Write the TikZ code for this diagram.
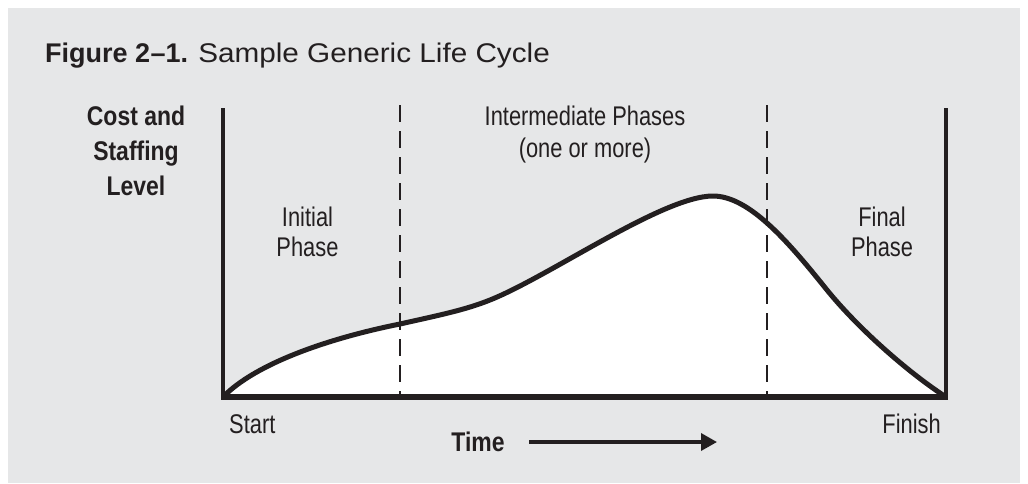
\documentclass[tikz,border=0pt]{standalone}
\usepackage{fontspec}
\setmainfont{Liberation Sans}
\newfontfamily\titlefont{Liberation Sans}
\newfontfamily\titlewide[FakeStretch=1.1]{Liberation Sans}
\newfontfamily\cfont[FakeStretch=0.81]{Liberation Sans}
\newfontfamily\cbfont[FakeStretch=0.85]{Liberation Sans}
\usetikzlibrary{arrows.meta}
\definecolor{bggray}{HTML}{E6E7E8}
\definecolor{ink}{HTML}{231F20}
\tikzset{
  lbl/.style={inner sep=0pt, anchor=base, text=ink, font=\cfont\fontsize{27}{32}\selectfont},
  blbl/.style={inner sep=0pt, anchor=base, text=ink, font=\cbfont\bfseries\fontsize{27}{32}\selectfont},
  axis/.style={draw=ink, line width=4pt, line join=miter},
  phase/.style={draw=ink, line width=1.5pt, dash pattern=on 17pt off 9pt},
  lifecurve/.style={draw=ink, line width=5pt, line join=round},
  timearrow/.style={draw=ink, line width=3.5pt, -{Triangle[length=16pt,width=17pt]}}
}
\def\lifepath{(223,397) .. controls (256,363) and (330,338) .. (400,324)
  .. controls (440,315) and (465,310) .. (490,300)
  .. controls (550,276) and (663,196) .. (713,196)
  .. controls (750,196) and (790,244) .. (827,290)
  .. controls (857,327) and (906,371) .. (946,397)}
\begin{document}
\begin{tikzpicture}[x=1pt,y=-1pt]
\useasboundingbox (0,0) rectangle (1028,483);
\fill[bggray] (8,8) rectangle (1020,483);

% coordinates
\coordinate (O) at (223,397);
\coordinate (Ytop) at (223,108);
\coordinate (F) at (946,397);
\coordinate (Ftop) at (946,108);
\coordinate (d1top) at (400,105);
\coordinate (d1bot) at (400,397);
\coordinate (d2top) at (767,105);
\coordinate (d2bot) at (767,397);
\coordinate (tstart) at (529,442);
\coordinate (tend) at (717,442);

% white area under curve
\fill[white] \lifepath -- cycle;

% phase dividers
\draw[phase] (d1top) -- (d1bot);
\draw[phase] (d2top) -- (d2bot);

% curve
\draw[lifecurve] \lifepath;

% axes
\draw[axis] (Ytop) -- (O);
\draw[axis] (Ftop) -- (F);
\draw[draw=ink, line width=6pt] ([xshift=-2pt]O) -- ([xshift=2pt]F);

% title
\node[inner sep=0pt, anchor=base west, text=ink, font=\fontsize{27}{32}\selectfont] (title) at (45,62)
  {{\titlefont\bfseries Figure 2\kern0.5pt–1.} {\titlewide Sample Generic Life Cycle}};

% y label
\node[blbl] (yl1) at (136,125) {Cost and};
\node[blbl] (yl2) at (136,160.5) {Staffing};
\node[blbl] (yl3) at (136,195) {Level};

% phase labels
\node[lbl] (ip1) at (585,125.5) {Intermediate Phases};
\node[lbl] (ip2) at (585,157.5) {(one or more)};
\node[lbl] (in1) at (307.5,226.5) {Initial};
\node[lbl] (in2) at (307.5,256.5) {Phase};
\node[lbl] (fi1) at (882,226.5) {Final};
\node[lbl] (fi2) at (882,256.5) {Phase};

% axis labels
\node[lbl, anchor=base west] (start) at (229,433) {Start};
\node[lbl, anchor=base east] (finish) at (941,433) {Finish};
\node[blbl] (time) at (478,451.5) {Time};
\draw[timearrow] (tstart) -- (tend);
\end{tikzpicture}
\end{document}
